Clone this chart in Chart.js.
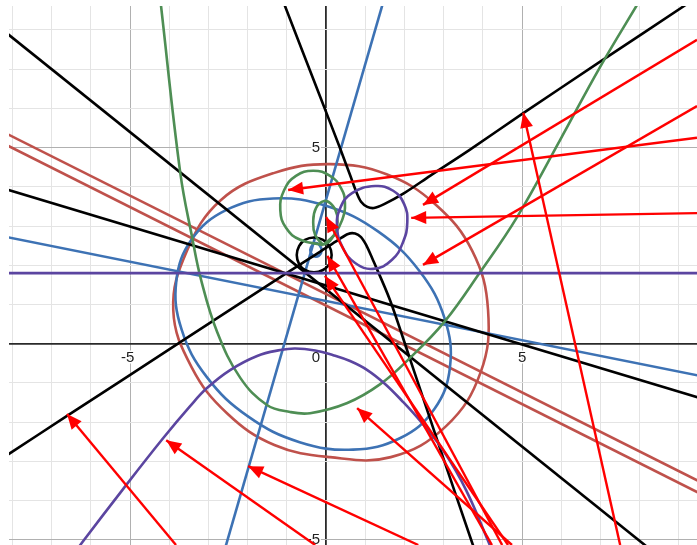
<!DOCTYPE html>
<html>
<head>
<meta charset="utf-8">
<script src="https://cdn.jsdelivr.net/npm/chart.js@4.4.0/dist/chart.umd.min.js"></script>
<style>
html,body{margin:0;padding:0;background:#fff;}
canvas{display:block;}
</style>
</head>
<body>
<canvas id="c" width="697" height="545"></canvas>
<script>
// ---- axis ranges, grid and tick labels ----
const xRange = [-8.09, 9.46];
const yRange = [-5.13, 8.61];
const xGridValues = [-8,-7,-6,-5,-4,-3,-2,-1,0,1,2,3,4,5,6,7,8,9];
const yGridValues = [-5,-4,-3,-2,-1,0,1,2,3,4,5,6,7,8];
const xAxisLabels = ['-5', '0', '5'];
const yAxisLabels = ['5', '-5'];

// ---- straight lines ([x, y] pairs) ----
const purpleHLine   = [[-9, 1.8], [10, 1.8]];
const blackLineA    = [[-8.5, 8.20], [9.5, -6.23]];
const blackLineB    = [[-8.5, 4.04], [9.8, -1.46]];
const blueLineFlat  = [[-8.5, 2.79], [9.8, -0.87]];
const blueLineSteep = [[1.54, 9.0], [-2.66, -5.5]];
const redLineA      = [[-8.5, 5.53], [9.8, -3.65]];
const redLineB      = [[-8.5, 5.24], [9.8, -3.95]];

// ---- curves ----
const redEllipse = [[4.13,0.86],[3.94,-0.73],[3.06,-2.10],[1.65,-2.89],[0.10,-2.89],[-1.32,-2.58],[-2.53,-1.77],[-3.43,-0.60],[-3.90,0.86],[-3.55,2.37],[-2.69,3.66],[-1.34,4.35],[0.10,4.58],[1.54,4.32],[2.79,3.55],[3.73,2.36]];
const blueEllipse = [[2.761,-1.663],[1.893,-2.402],[0.686,-2.699],[-0.676,-2.508],[-1.985,-1.859],[-3.043,-0.850],[-3.688,0.364],[-3.822,1.599],[-3.424,2.668],[-2.556,3.407],[-1.349,3.704],[0.013,3.513],[1.322,2.864],[2.380,1.855],[3.024,0.641],[3.159,-0.594]];
const greenParabola = [[-4.23,8.77],[-3.72,4.35],[-3.42,2.72],[-3.19,1.63],[-2.78,0.30],[-2.19,-0.87],[-1.51,-1.56],[-0.92,-1.74],[-0.41,-1.77],[0.54,-1.51],[1.38,-1.03],[2.14,-0.36],[3.01,0.55],[3.93,1.83],[4.87,3.23],[5.97,5.20],[6.99,7.06],[8.01,8.77]];
const purpleParabola = [[-6.48,-5.42],[-6.22,-5.06],[-5.20,-3.73],[-4.16,-2.41],[-3.47,-1.59],[-3.04,-1.13],[-2.45,-0.67],[-1.76,-0.31],[-1.17,-0.16],[-0.79,-0.12],[-0.28,-0.17],[0.18,-0.29],[0.61,-0.44],[1.05,-0.67],[1.51,-1.03],[1.94,-1.46],[2.40,-1.97],[2.98,-2.71],[3.57,-3.73],[4.23,-5.26]];
const hyperUpper = [[-1.10,8.77],[-1.05,8.61],[-0.15,6.29],[0.36,4.97],[0.61,4.30],[0.77,3.87],[0.89,3.62],[1.05,3.49],[1.22,3.46],[1.48,3.56],[1.99,3.84],[2.65,4.28],[3.67,4.95],[5.00,5.86],[6.99,7.19],[9.13,8.61],[9.39,8.79]];
const hyperLower = [[-8.57,-3.11],[-8.08,-2.80],[-6.61,-1.84],[-3.72,0.04],[-1.09,1.75],[-0.15,2.35],[0.31,2.65],[0.56,2.80],[0.74,2.81],[0.89,2.72],[1.02,2.52],[1.17,2.19],[1.63,1.11],[2.14,-0.39],[2.98,-2.89],[3.72,-5.06],[3.83,-5.36]];
const blackCircle = [[-0.31,2.71],[-0.08,2.65],[0.08,2.49],[0.14,2.26],[0.08,2.03],[-0.08,1.88],[-0.31,1.82],[-0.54,1.88],[-0.69,2.03],[-0.75,2.26],[-0.69,2.49],[-0.54,2.65]];
const blueSmallLoop = [[-0.26,2.57],[-0.13,2.45],[-0.13,2.31],[-0.26,2.22],[-0.39,2.31],[-0.39,2.45]];
const greenOuterLoop = [[-0.08,2.52],[-0.66,2.65],[-1.02,2.95],[-1.17,3.41],[-1.07,3.92],[-0.77,4.28],[-0.33,4.41],[0.10,4.28],[0.38,3.97],[0.48,3.59],[0.41,3.16],[0.20,2.77],[-0.08,2.52]];
const greenInnerLoop = [[-0.08,2.52],[-0.28,2.77],[-0.33,3.10],[-0.26,3.46],[-0.05,3.64],[0.15,3.54],[0.28,3.28],[0.26,2.90],[0.10,2.62],[-0.08,2.52]];
const purpleLoop = [[1.25,4.02],[1.71,3.90],[1.99,3.56],[2.07,3.10],[1.96,2.59],[1.68,2.14],[1.20,1.91],[0.74,2.06],[0.43,2.44],[0.28,2.95],[0.36,3.46],[0.66,3.84]];

// ---- red arrows: [start, tip] ----
const arrows = [
  [[9.46,5.25],[-0.97,3.92]],
  [[9.46,7.75],[2.47,3.54]],
  [[9.46,3.33],[2.17,3.21]],
  [[9.46,6.06],[2.47,2.01]],
  [[7.50,-5.13],[5.03,5.89]],
  [[-3.83,-5.13],[-6.61,-1.79]],
  [[-0.28,-5.13],[-4.08,-2.46]],
  [[2.35,-5.13],[-1.99,-3.12]],
  [[4.74,-5.13],[0.79,-1.64]],
  [[4.49,-5.13],[0.00,3.23]],
  [[4.23,-5.13],[0.03,2.24]],
  [[4.64,-5.13],[-0.03,1.73]]
];

const COLORS = {
  red: '#bf514b', blue: '#3d72b4', green: '#4e8e54', purple: '#5b45a0', black: '#000000', arrow: '#ff0000'
};

const toPts = arr => arr.map(([x, y]) => ({x, y}));
function series(arr, color, tension, order, extra) {
  return Object.assign({
    data: toPts(arr), borderColor: color, backgroundColor: color, borderWidth: 2.6,
    showLine: true, pointRadius: 0, pointHoverRadius: 0, tension: tension, fill: false,
    clip: 0, order: order
  }, extra || {});
}
// closed loop: wrap neighbours around the seam and hide the two helper segments,
// so every visible segment gets proper spline neighbours
function loopSeries(arr, color, tension, order) {
  const wrapped = [arr[arr.length - 1], ...arr, arr[0], arr[1]];
  const last = wrapped.length - 1;
  return series(wrapped, color, tension, order, {
    segment: {
      borderColor: c => (c.p0DataIndex === 0 || c.p1DataIndex === last) ? 'rgba(0,0,0,0)' : undefined
    }
  });
}

const datasets = [];
arrows.forEach(a => datasets.push(series(a, COLORS.arrow, 0, 1, {borderWidth: 2.4, isArrow: true})));
datasets.push(series(purpleHLine, COLORS.purple, 0, 3));
datasets.push(loopSeries(purpleLoop, COLORS.purple, 0.45, 3));
datasets.push(series(purpleParabola, COLORS.purple, 0.4, 3));
datasets.push(series(greenOuterLoop, COLORS.green, 0.45, 4));
datasets.push(series(greenInnerLoop, COLORS.green, 0.45, 4));
datasets.push(series(greenParabola, COLORS.green, 0.4, 4));
datasets.push(series(blackLineA, COLORS.black, 0, 5));
datasets.push(series(blackLineB, COLORS.black, 0, 5));
datasets.push(series(hyperUpper, COLORS.black, 0.3, 5));
datasets.push(series(hyperLower, COLORS.black, 0.3, 5));
datasets.push(loopSeries(blackCircle, COLORS.black, 0.45, 5));
datasets.push(series(blueLineFlat, COLORS.blue, 0, 6));
datasets.push(series(blueLineSteep, COLORS.blue, 0, 6));
datasets.push(loopSeries(blueSmallLoop, COLORS.blue, 0.45, 6));
datasets.push(loopSeries(blueEllipse, COLORS.blue, 0.4, 6));
datasets.push(series(redLineA, COLORS.red, 0, 7));
datasets.push(series(redLineB, COLORS.red, 0, 7));
datasets.push(loopSeries(redEllipse, COLORS.red, 0.4, 7));

function gridColor(v) {
  if (v === 0) return '#2a2a2a';
  if (Number.isInteger(v) && v % 5 === 0) return '#b0b0b0';
  if (Number.isInteger(v)) return '#e4e4e4';
  return 'rgba(0,0,0,0)';
}
function gridWidth(v) { return v === 0 ? 1.8 : 1; }

const labelPlugin = {
  id: 'axisLabels',
  beforeDatasetsDraw(chart) {
    const ctx = chart.ctx, xs = chart.scales.x, ys = chart.scales.y;
    const x0 = xs.getPixelForValue(0), y0 = ys.getPixelForValue(0);
    ctx.save();
    ctx.font = '15px "Liberation Sans", Arial, sans-serif';
    ctx.textBaseline = 'middle';
    ctx.lineWidth = 3;
    ctx.strokeStyle = '#ffffff';
    ctx.fillStyle = '#222222';
    ctx.lineJoin = 'round';
    xAxisLabels.forEach(t => {
      const v = parseFloat(t);
      let px;
      if (v === 0) { px = x0 - 6; }
      else {
        const dw = ctx.measureText(t.replace('-', '')).width;
        px = xs.getPixelForValue(v) + dw / 2;
      }
      ctx.textAlign = 'right';
      ctx.strokeText(t, px, y0 + 14);
      ctx.fillText(t, px, y0 + 14);
    });
    yAxisLabels.forEach(t => {
      const py = ys.getPixelForValue(parseFloat(t));
      ctx.textAlign = 'right';
      ctx.strokeText(t, x0 - 6, py);
      ctx.fillText(t, x0 - 6, py);
    });
    ctx.restore();
  }
};

const arrowHeadPlugin = {
  id: 'arrowHeads',
  afterDatasetsDraw(chart) {
    const ctx = chart.ctx, area = chart.chartArea;
    ctx.save();
    ctx.beginPath();
    ctx.rect(area.left, area.top, area.right - area.left, area.bottom - area.top);
    ctx.clip();
    chart.data.datasets.forEach((ds, i) => {
      if (!ds.isArrow) return;
      const pts = chart.getDatasetMeta(i).data;
      const p0 = pts[0], p1 = pts[pts.length - 1];
      const ang = Math.atan2(p1.y - p0.y, p1.x - p0.x);
      const L = 15, W = 6.5;
      const bx = p1.x - L * Math.cos(ang), by = p1.y - L * Math.sin(ang);
      ctx.beginPath();
      ctx.moveTo(p1.x, p1.y);
      ctx.lineTo(bx + W * Math.sin(ang), by - W * Math.cos(ang));
      ctx.lineTo(bx - W * Math.sin(ang), by + W * Math.cos(ang));
      ctx.closePath();
      ctx.fillStyle = ds.borderColor;
      ctx.fill();
    });
    ctx.restore();
  }
};

new Chart(document.getElementById('c'), {
  type: 'scatter',
  data: { datasets },
  options: {
    responsive: false,
    animation: false,
    devicePixelRatio: 1,
    events: [],
    layout: { padding: { left: 9, top: 6, right: 0, bottom: 0 } },
    plugins: { legend: { display: false }, tooltip: { enabled: false } },
    elements: { line: { capBezierPoints: false, borderCapStyle: 'butt' } },
    scales: {
      x: {
        type: 'linear', min: xRange[0], max: xRange[1],
        afterBuildTicks: s => { s.ticks = xGridValues.map(v => ({ value: v })); },
        ticks: { display: false },
        grid: { drawTicks: false, color: c => gridColor(c.tick ? c.tick.value : NaN), lineWidth: c => gridWidth(c.tick ? c.tick.value : NaN) },
        border: { display: false }
      },
      y: {
        type: 'linear', min: yRange[0], max: yRange[1],
        afterBuildTicks: s => { s.ticks = yGridValues.map(v => ({ value: v })); },
        ticks: { display: false },
        grid: { drawTicks: false, color: c => gridColor(c.tick ? c.tick.value : NaN), lineWidth: c => gridWidth(c.tick ? c.tick.value : NaN) },
        border: { display: false }
      }
    }
  },
  plugins: [labelPlugin, arrowHeadPlugin]
});
</script>
</body>
</html>
